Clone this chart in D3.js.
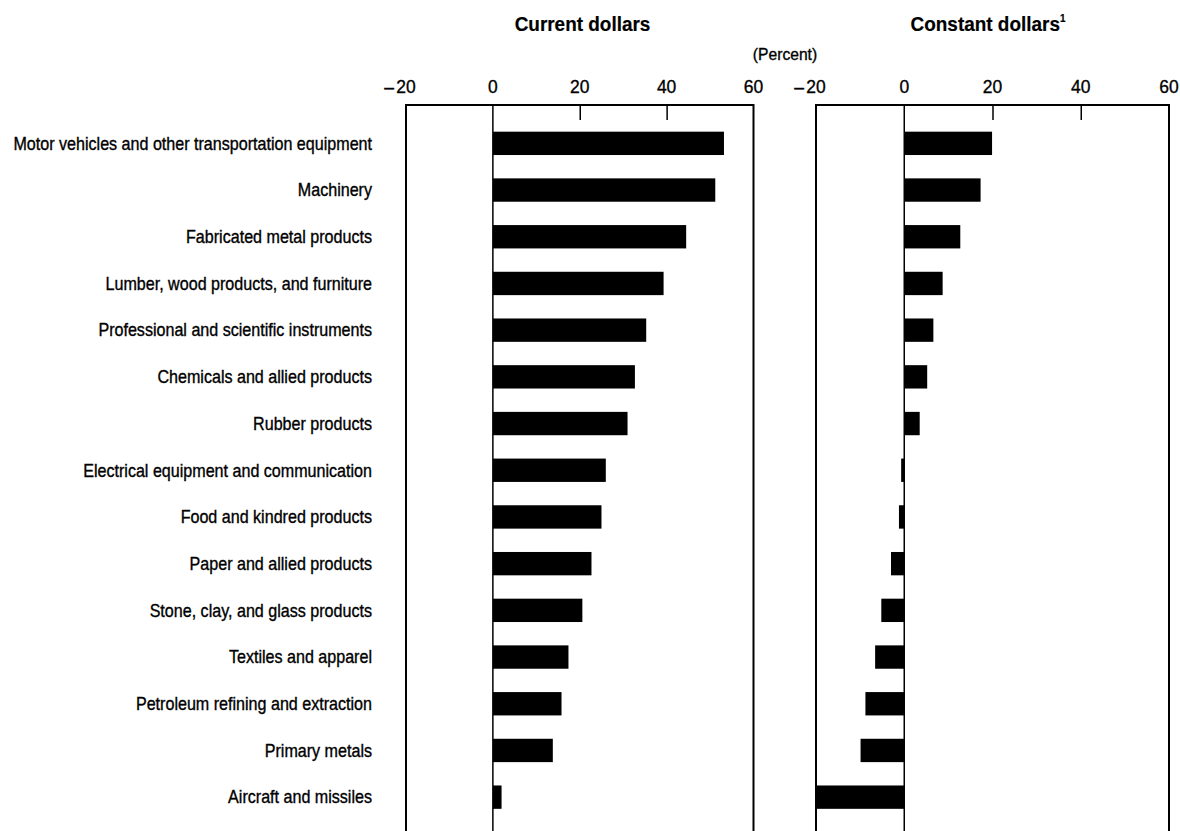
<!DOCTYPE html>
<html>
<head>
<meta charset="utf-8">
<script src="https://cdn.jsdelivr.net/npm/d3@7/dist/d3.min.js"></script>
<style>
  html, body { margin: 0; padding: 0; background: #fff; }
  svg { display: block; }
  text { font-family: "Liberation Sans Narrow", "Arial Narrow", "Liberation Sans", Arial, sans-serif; fill: #000; stroke: #000; stroke-width: 0.35px; }
  text.bold { stroke-width: 0.2px; }
</style>
</head>
<body>
<svg id="chart" width="1180" height="831"></svg>
<script>
const categories = [
  "Motor vehicles and other transportation equipment",
  "Machinery",
  "Fabricated metal products",
  "Lumber, wood products, and furniture",
  "Professional and scientific instruments",
  "Chemicals and allied products",
  "Rubber products",
  "Electrical equipment and communication",
  "Food and kindred products",
  "Paper and allied products",
  "Stone, clay, and glass products",
  "Textiles and apparel",
  "Petroleum refining and extraction",
  "Primary metals",
  "Aircraft and missiles"
];
const currentDollars = [53.2, 51.2, 44.5, 39.3, 35.3, 32.7, 31.0, 26.0, 25.0, 22.7, 20.6, 17.4, 15.8, 13.8, 2.0];
const constantDollars = [19.9, 17.3, 12.7, 8.7, 6.6, 5.2, 3.5, -0.7, -1.2, -3.0, -5.2, -6.6, -8.8, -9.9, -19.9];
const tickValues = [-20, 0, 20, 40, 60];
const panelTitles = ["Current dollars", "Constant dollars"];
const unitLabel = "(Percent)";

const svg = d3.select("#chart");
const frameTop = 105, frameBottom = 831;

const y = d3.scaleBand().domain(categories).range([120, 820.5])
  .paddingInner(0.5).paddingOuter(0.25);

const panels = [
  { title: panelTitles[0], values: currentDollars, x: d3.scaleLinear().domain([-20, 60]).range([406, 753.5]), note: false, cx: 582.5 },
  { title: panelTitles[1], values: constantDollars, x: d3.scaleLinear().domain([-20, 60]).range([816, 1169]), note: true, cx: 988 }
];

// condensed text helper: text placed at (x,y) with horizontal scale k
function ctext(sel, x, yy, k) {
  return sel.append("g").attr("transform", `translate(${x},${yy}) scale(${k},1)`).append("text").attr("x", 0).attr("y", 0);
}

// category labels
const labelG = svg.append("g");
const labelNodes = categories.map(c => {
  const t = labelG.append("g").append("text")
    .attr("text-anchor", "end").attr("dy", "0.36em")
    .style("font-size", "17.5px").text(c);
  return t;
});
const longest = labelNodes[0].node().getComputedTextLength();
const kLabel = 359 / longest;
labelNodes.forEach((t, i) => {
  d3.select(t.node().parentNode)
    .attr("transform", `translate(372,${y(categories[i]) + y.bandwidth() / 2}) scale(${kLabel},1)`);
});

panels.forEach(p => {
  const g = svg.append("g");
  const x = p.x;
  const [x0, x1] = x.range();

  // title
  const tg = g.append("g");
  const t = tg.append("text")
    .attr("class", "bold")
    .attr("text-anchor", "middle")
    .style("font-size", "21px")
    .style("font-weight", "bold")
    .text(p.title);
  if (p.note) {
    t.append("tspan").attr("dy", -9).style("font-size", "11px").text("1");
  }
  tg.attr("transform", `translate(${p.cx},31) scale(${kLabel * 0.98},1)`);

  // bars
  g.selectAll("rect").data(p.values).join("rect")
    .attr("x", d => x(Math.min(0, d)))
    .attr("y", (d, i) => y(categories[i]))
    .attr("width", d => Math.abs(x(d) - x(0)))
    .attr("height", y.bandwidth())
    .attr("fill", "#000");

  // frame (left, top, right)
  g.append("path")
    .attr("d", `M${x0},${frameBottom}V${frameTop}H${x1}V${frameBottom}`)
    .attr("fill", "none").attr("stroke", "#000").attr("stroke-width", 2);

  // zero line
  g.append("line")
    .attr("x1", x(0)).attr("x2", x(0))
    .attr("y1", frameTop).attr("y2", frameBottom)
    .attr("stroke", "#000").attr("stroke-width", 1.5);

  // inner ticks via axis
  const axis = d3.axisTop(x).tickValues([20, 40]).tickSize(-15).tickFormat("");
  const ag = g.append("g").attr("transform", `translate(0,${frameTop})`).call(axis);
  ag.select(".domain").remove();
  ag.selectAll(".tick line").attr("stroke", "#000").attr("stroke-width", 1.5);

  // tick labels
  tickValues.forEach(d => {
    ctext(g, x(d), 93, kLabel).attr("text-anchor", "middle").style("font-size", "19px")
      .text(String(Math.abs(d)));
    if (d < 0) {
      ctext(g, x(d) - 12, 93, kLabel).attr("text-anchor", "end").style("font-size", "19px").text("\u2013");
    }
  });
});

ctext(svg, 785, 60, kLabel).attr("text-anchor", "middle").style("font-size", "17px").text(unitLabel);
</script>
</body>
</html>
